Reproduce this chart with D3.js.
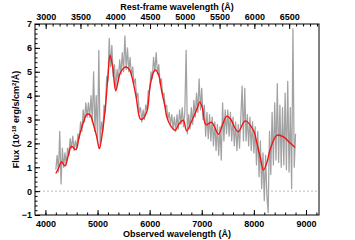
<!DOCTYPE html>
<html><head><meta charset="utf-8">
<script src="https://cdn.jsdelivr.net/npm/d3@7"></script>
<style>
body{margin:0;background:#fff;}
text{font-family:"Liberation Sans",Arial,sans-serif;font-weight:bold;}
</style></head>
<body><svg id="c" width="355" height="240"></svg>
<script>
// Observed spectrum (grey): start, step (Å) and flux values
const specStart = 4200;
const specStep = 25;
const specFlux = [
0.9,1.5,0.8,2.5,0.3,1.8,1.0,1.6,1.1,1.8,1.5,2.2,1.8,2.3,1.7,2.1,1.8,2.4,2.2,2.9,
2.5,3.4,2.9,3.7,3.1,3.7,3.1,4.0,2.9,5.0,2.5,4.0,2.1,5.9,1.9,2.9,2.5,3.6,3.3,4.8,
4.6,6.4,5.2,6.1,4.8,5.3,4.3,5.1,4.6,5.5,4.9,5.8,5.0,6.5,5.1,6.0,5.0,5.6,4.8,5.2,
4.5,4.7,3.9,4.1,3.3,3.5,2.9,3.4,3.0,3.6,3.4,4.2,4.2,5.0,4.7,5.6,5.0,5.8,4.9,5.3,
4.5,4.7,4.0,4.1,3.5,3.6,3.0,3.3,2.8,3.2,2.6,3.1,2.5,3.2,2.6,3.4,2.8,3.5,2.7,3.3,
5.9,2.4,3.2,2.6,3.5,2.8,3.8,3.1,4.1,3.3,4.7,3.4,4.3,3.0,3.6,2.3,3.3,2.2,3.2,2.1,
3.1,1.9,2.9,1.7,2.8,1.5,2.7,1.3,3.7,2.1,3.4,2.4,3.4,2.3,3.3,2.1,3.1,1.9,2.9,1.7,
2.8,1.8,3.1,4.4,2.1,4.3,2.1,3.2,1.9,3.1,1.7,2.9,1.6,2.7,1.1,2.5,0.6,2.1,0.1,1.6,
-0.4,1.5,-0.2,-0.9,2.5,0.7,3.3,1.1,3.7,1.3,4.5,1.2,3.6,1.0,3.5,1.1,4.1,0.9,4.6,0.8,
3.5,0.1,6.8,1.0,2.4];

// Smoothed model (red)
const fitWave = [4200,4250,4310,4375,4440,4500,4585,4640,4700,4800,4860,4920,4985,5035,5090,5145,5200,5240,5290,5350,5430,5500,5550,5620,5680,5740,5815,5850,5945,6005,6060,6105,6165,6230,6295,6330,6400,6490,6560,6645,6710,6800,6900,6965,7010,7080,7190,7320,7400,7480,7545,7700,7830,7990,8060,8120,8185,8250,8310,8440,8570,8680,8790];
const fitFlux = [0.74,0.95,1.23,1.05,1.5,1.88,1.74,2.2,2.69,3.22,3.18,2.8,2.27,1.78,2.4,3.39,4.8,5.69,5.2,4.2,4.92,5.15,5.2,5.06,4.6,3.95,3.04,3.0,3.32,4.36,4.9,5.08,4.92,4.2,3.53,3.1,2.75,2.55,2.8,2.97,2.52,2.9,3.4,3.74,3.5,2.78,2.88,2.38,2.8,3.14,3.04,2.48,2.94,2.55,2.0,1.44,0.88,1.2,1.72,2.34,2.27,2.05,1.83];

const obsDomain = [3800, 9250];
const fluxDomain = [-1, 7];
const redshift = 0.335;
const obsTicks = [4000,5000,6000,7000,8000,9000];
const restTicks = [3000,3500,4000,4500,5000,5500,6000,6500];
const fluxTicks = [-1,0,1,2,3,4,5,6,7];

const svg = d3.select("#c");
const L=35, R=319, T=24, B=215;
const x = d3.scaleLinear().domain(obsDomain).range([L,R]);
const xr = d3.scaleLinear().domain(obsDomain.map(v=>v/(1+redshift))).range([L,R]);
const y = d3.scaleLinear().domain(fluxDomain).range([B,T]);

// zero line
svg.append("line").attr("x1",L).attr("x2",R).attr("y1",y(0)).attr("y2",y(0))
  .attr("stroke","#bbb").attr("stroke-width",1).attr("stroke-dasharray","2,2");

// grey spectrum
const spec = specFlux.map((f,i)=>[specStart+i*specStep, f]);
svg.append("path").datum(spec)
  .attr("d", d3.line().x(d=>x(d[0])).y(d=>y(d[1])))
  .attr("fill","none").attr("stroke","#a2a2a2").attr("stroke-width",1.25).attr("stroke-linejoin","round");

// red fit
svg.append("path").datum(fitWave.map((w,i)=>[w,fitFlux[i]]))
  .attr("d", d3.line().x(d=>x(d[0])).y(d=>y(d[1])).curve(d3.curveCatmullRom))
  .attr("fill","none").attr("stroke","#f01414").attr("stroke-width",1.4);

function styleAxis(g){
  g.select(".domain").remove();
  g.selectAll("line").attr("stroke","#000");
  g.selectAll("text").attr("font-size","9px").attr("fill","#000");
}
// bottom
svg.append("g").attr("transform",`translate(0,${B})`)
  .call(d3.axisBottom(x).tickValues(d3.range(4000,9201,200)).tickSize(-2.5).tickFormat("")).call(styleAxis);
svg.append("g").attr("transform",`translate(0,${B})`)
  .call(d3.axisBottom(x).tickValues(obsTicks).tickSize(-5).tickPadding(4).tickFormat(d3.format("d"))).call(styleAxis)
  .selectAll("text").attr("dy","0.85em");
// top
svg.append("g").attr("transform",`translate(0,${T})`)
  .call(d3.axisTop(xr).tickValues(d3.range(2900,6901,100)).tickSize(-2.5).tickFormat("")).call(styleAxis);
svg.append("g").attr("transform",`translate(0,${T})`)
  .call(d3.axisTop(xr).tickValues(restTicks).tickSize(-5).tickPadding(4).tickFormat(d3.format("d"))).call(styleAxis);
// left
svg.append("g").attr("transform",`translate(${L},0)`)
  .call(d3.axisLeft(y).tickValues(d3.range(-1,7.01,0.2)).tickSize(-2.5).tickFormat("")).call(styleAxis);
svg.append("g").attr("transform",`translate(${L},0)`)
  .call(d3.axisLeft(y).tickValues(fluxTicks).tickSize(-5).tickPadding(3).tickFormat(d3.format("d"))).call(styleAxis);

// frame
svg.append("rect").attr("x",L).attr("y",T).attr("width",R-L).attr("height",B-T)
  .attr("fill","none").attr("stroke","#000").attr("stroke-width",1);

// titles
svg.append("text").attr("x",(L+R)/2).attr("y",10).attr("text-anchor","middle").attr("font-size","9px").text("Rest-frame wavelength (Å)");
svg.append("text").attr("x",(L+R)/2).attr("y",237).attr("text-anchor","middle").attr("font-size","9px").text("Observed wavelength (Å)");
const yl = svg.append("text").attr("transform",`translate(19,${(T+B)/2}) rotate(-90)`).attr("text-anchor","middle").attr("font-size","9px");
yl.append("tspan").text("Flux (10");
yl.append("tspan").attr("dy","-3").attr("font-size","6px").text("-18");
yl.append("tspan").attr("dy","3").text(" erg/s/cm");
yl.append("tspan").attr("dy","-3").attr("font-size","6px").text("2");
yl.append("tspan").attr("dy","3").text("/Å)");
</script></body></html>
